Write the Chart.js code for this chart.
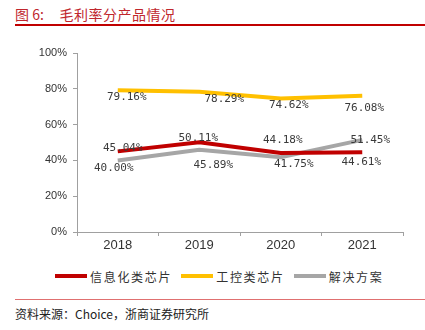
<!DOCTYPE html>
<html>
<head>
<meta charset="utf-8">
<script src="https://cdn.jsdelivr.net/npm/chart.js@4.4.0/dist/chart.umd.min.js"></script>
<style>
  body { margin: 0; width: 425px; height: 330px; background: #fff; position: relative; overflow: hidden; font-family: "Noto Sans CJK SC", sans-serif; }
  #title { position: absolute; left: 15px; top: 4px; font-size: 14px; color: #c0262d; white-space: pre; }
  #title .t { letter-spacing: 0.5px; }
  #topline { position: absolute; left: 15px; right: 0; top: 24px; height: 2px; background: #c00000; }
  #wrap { position: absolute; left: 0; top: 40px; width: 425px; height: 212px; }
  #legend { position: absolute; left: 55px; top: 268px; height: 16px; display: flex; font-size: 12px; color: #333; letter-spacing: 1.7px; }
  .item { display: flex; align-items: center; margin-right: 9px; }
  .swatch { width: 32px; height: 4px; margin-right: 3px; }
  #botline { position: absolute; left: 15px; right: 0; top: 299px; height: 1px; background: #e07070; }
  #source { position: absolute; left: 15px; top: 305px; font-size: 12px; color: #222; }
</style>
</head>
<body>
<div id="title">图 6:     <span class="t">毛利率分产品情况</span></div>
<div id="topline"></div>
<div id="wrap"><canvas id="chart"></canvas></div>
<div id="legend"></div>
<div id="botline"></div>
<div id="source">资料来源：Choice，浙商证券研究所</div>
<script>
const years = ["2018", "2019", "2020", "2021"];
const infoChips = [45.04, 50.11, 44.18, 44.61];
const controlChips = [79.16, 78.29, 74.62, 76.08];
const solutions = [40.00, 45.89, 41.75, 51.45];
const yTicks = [0, 20, 40, 60, 80, 100];

// label offsets from the point, in px (style only)
const labelOffsets = [
  [[5, -3], [-1, -4], [2, -13], [-1, 10]],
  [[9, 7], [25, 7], [8, 7], [2, 12]],
  [[-4, 8], [14, 15], [13, 7], [8, 0]],
];

const datasets = [
  { label: "信息化类芯片", data: infoChips, borderColor: "#c00000" },
  { label: "工控类芯片", data: controlChips, borderColor: "#ffc000" },
  { label: "解决方案", data: solutions, borderColor: "#a6a6a6" },
].map((d) => ({ ...d, backgroundColor: d.borderColor, borderWidth: 4, pointRadius: 0, tension: 0, fill: false }));

const valueLabels = {
  id: "valueLabels",
  afterDatasetsDraw(chart) {
    const ctx = chart.ctx;
    ctx.save();
    ctx.font = '11px "DejaVu Sans Mono", monospace';
    ctx.fillStyle = "#3a3a3a";
    ctx.textAlign = "center";
    ctx.textBaseline = "middle";
    chart.data.datasets.forEach((ds, i) => {
      chart.getDatasetMeta(i).data.forEach((pt, j) => {
        const off = labelOffsets[i][j];
        ctx.fillText(ds.data[j].toFixed(2) + "%", pt.x + off[0], pt.y + off[1]);
      });
    });
    ctx.restore();
  },
};

const chart = new Chart(document.getElementById("chart"), {
  type: "line",
  data: { labels: years, datasets: datasets },
  options: {
    responsive: true,
    maintainAspectRatio: false,
    animation: false,
    layout: { padding: { top: 13, right: 22, bottom: 0, left: 0 } },
    plugins: { legend: { display: false }, tooltip: { enabled: false } },
    scales: {
      x: {
        offset: true,
        grid: { display: true, drawOnChartArea: false, tickLength: 4, color: "#a0a0a0", offset: true },
        border: { color: "#a0a0a0" },
        ticks: { font: { family: "Liberation Sans", size: 13 }, color: "#333", padding: 2 },
        afterFit: (s) => { s.height = 20; },
      },
      y: {
        min: 0,
        max: 100,
        afterBuildTicks: (s) => { s.ticks = yTicks.map((v) => ({ value: v })); },
        grid: { display: true, drawOnChartArea: false, tickLength: 4, color: "#a0a0a0" },
        border: { color: "#a0a0a0" },
        ticks: { font: { family: "Liberation Sans", size: 11 }, color: "#333", padding: 6, callback: (v) => v + "%" },
        afterFit: (s) => { s.width = 77; },
      },
    },
  },
  plugins: [valueLabels],
});

const legend = document.getElementById("legend");
datasets.forEach((d) => {
  const item = document.createElement("div");
  item.className = "item";
  item.innerHTML = '<span class="swatch" style="background:' + d.borderColor + '"></span><span>' + d.label + "</span>";
  legend.appendChild(item);
});
</script>
</body>
</html>
